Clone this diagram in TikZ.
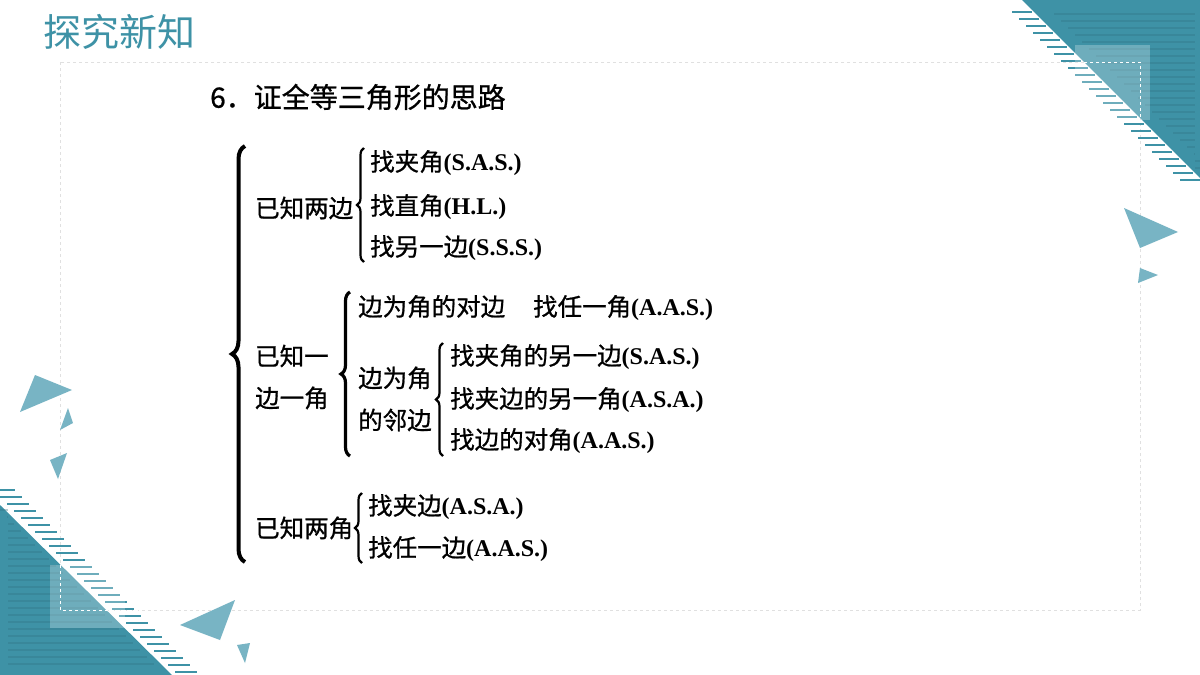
\documentclass[tikz,border=0pt]{standalone}
\usepackage{fontspec}
\setmainfont{Liberation Serif}
\newfontfamily\cjk[FakeBold=0.8]{Noto Sans CJK SC}
\newfontfamily\cjkt{Noto Sans CJK SC}
\usetikzlibrary{decorations.pathreplacing}
\definecolor{teal1}{RGB}{62,146,166}
\definecolor{teal2}{RGB}{120,180,196}
\newcommand{\zh}[1]{{\cjk #1}}
\newcommand{\la}[1]{{\fontsize{24}{24}\selectfont\bfseries #1}}
\begin{document}
\begin{tikzpicture}[x=1pt,y=-1pt,
  t/.style={anchor=west,inner sep=0pt,font=\fontsize{24.5}{28}\selectfont},
  br/.style={decorate,decoration={brace,amplitude=7pt},line width=2.2pt},
  tri/.style={fill=teal2,draw=none}]
\useasboundingbox (0,0) rectangle (1200,675);
\fill[white] (0,0) rectangle (1200,675);
% frame
\draw[black!12,dashed] (60,62) rectangle (1140,610);
% top-right deco
\fill[teal1] (1022,0) -- (1200,0) -- (1200,178) -- cycle;
\foreach \y in {12,19,...,185} { \draw[teal1,line width=2.6pt] ({1025+\y-25},\y) -- ({1025+\y-5},\y); }
\foreach \y in {14,21,...,170} { \draw[teal1!80!black,line width=1.2pt,opacity=.35] ({1040+\y},\y) -- (1195,\y); }
\fill[white,opacity=.25] (1075,45) rectangle (1150,120);
\draw[white,dashed,line width=1pt] (1060,62) -- (1140,62) -- (1140,120);
\fill[tri] (1124,208) -- (1178,232) -- (1140,248) -- cycle;
\fill[tri] (1140,268) -- (1158,275) -- (1138,283) -- cycle;
% bottom-left deco
\fill[teal1] (0,505) -- (0,675) -- (172,675) -- cycle;
\foreach \y in {490,497,...,672} { \draw[teal1,line width=2.6pt] ({\y-505+8},\y) -- ({\y-505+30},\y); }
\foreach \y in {510,517,...,670} { \draw[teal1!80!black,line width=1.2pt,opacity=.35] (8,\y) -- ({\y-510},\y); }
\fill[white,opacity=.25] (50,565) rectangle (125,628);
\draw[white,dashed,line width=1pt] (60,565) -- (60,610) -- (140,610);
\fill[tri] (20,412) -- (35,375) -- (72,390) -- cycle;
\fill[tri] (60,430) -- (68,408) -- (73,423) -- cycle;
\fill[tri] (50,460) -- (67,453) -- (58,479) -- cycle;
\fill[tri] (180,625) -- (235,600) -- (220,640) -- cycle;
\fill[tri] (237,645) -- (250,643) -- (245,663) -- cycle;
% title
\node[anchor=west,inner sep=0pt,text=teal1,font=\fontsize{38}{42}\selectfont\cjkt] (title) at (43,32) {探究新知};
\node[t,font=\fontsize{28}{32}\selectfont] (head) at (210,97) {\zh{6．证全等三角形的思路}};
% big brace
\coordinate (b0a) at (245,562); \coordinate (b0b) at (245,146);
\draw[br,line width=4pt,decoration={amplitude=13pt}] (b0a) -- (b0b);
% group 1
\node[t] (g1) at (255,208) {\zh{已知两边}};
\coordinate (b1a) at (364,262); \coordinate (b1b) at (364,148);
\draw[br] (b1a) -- (b1b);
\node[t] (a1) at (370,163) {\zh{找夹角}\la{(S.A.S.)}};
\node[t] (a2) at (370,207) {\zh{找直角}\la{(H.L.)}};
\node[t] (a3) at (370,248) {\zh{找另一边}\la{(S.S.S.)}};
% group 2
\node[t] (g2a) at (255,356) {\zh{已知一}};
\node[t] (g2b) at (255,398) {\zh{边一角}};
\coordinate (b2a) at (350,456); \coordinate (b2b) at (350,292);
\draw[br,line width=3.2pt,decoration={amplitude=9pt}] (b2a) -- (b2b);
\node[t] (c1) at (358,308) {\zh{边为角的对边}\hspace{28pt}\zh{找任一角}\la{(A.A.S.)}};
\node[t] (c2a) at (358,378) {\zh{边为角}};
\node[t] (c2b) at (358,420) {\zh{的邻边}};
\coordinate (b3a) at (443,456); \coordinate (b3b) at (443,343);
\draw[br] (b3a) -- (b3b);
\node[t] (d1) at (450,357) {\zh{找夹角的另一边}\la{(S.A.S.)}};
\node[t] (d2) at (450,400) {\zh{找夹边的另一角}\la{(A.S.A.)}};
\node[t] (d3) at (450,441) {\zh{找边的对角}\la{(A.A.S.)}};
% group 3
\node[t] (g3) at (255,528) {\zh{已知两角}};
\coordinate (b4a) at (362,563); \coordinate (b4b) at (362,493);
\draw[br] (b4a) -- (b4b);
\node[t] (e1) at (368,507) {\zh{找夹边}\la{(A.S.A.)}};
\node[t] (e2) at (368,549) {\zh{找任一边}\la{(A.A.S.)}};
\end{tikzpicture}
\end{document}
